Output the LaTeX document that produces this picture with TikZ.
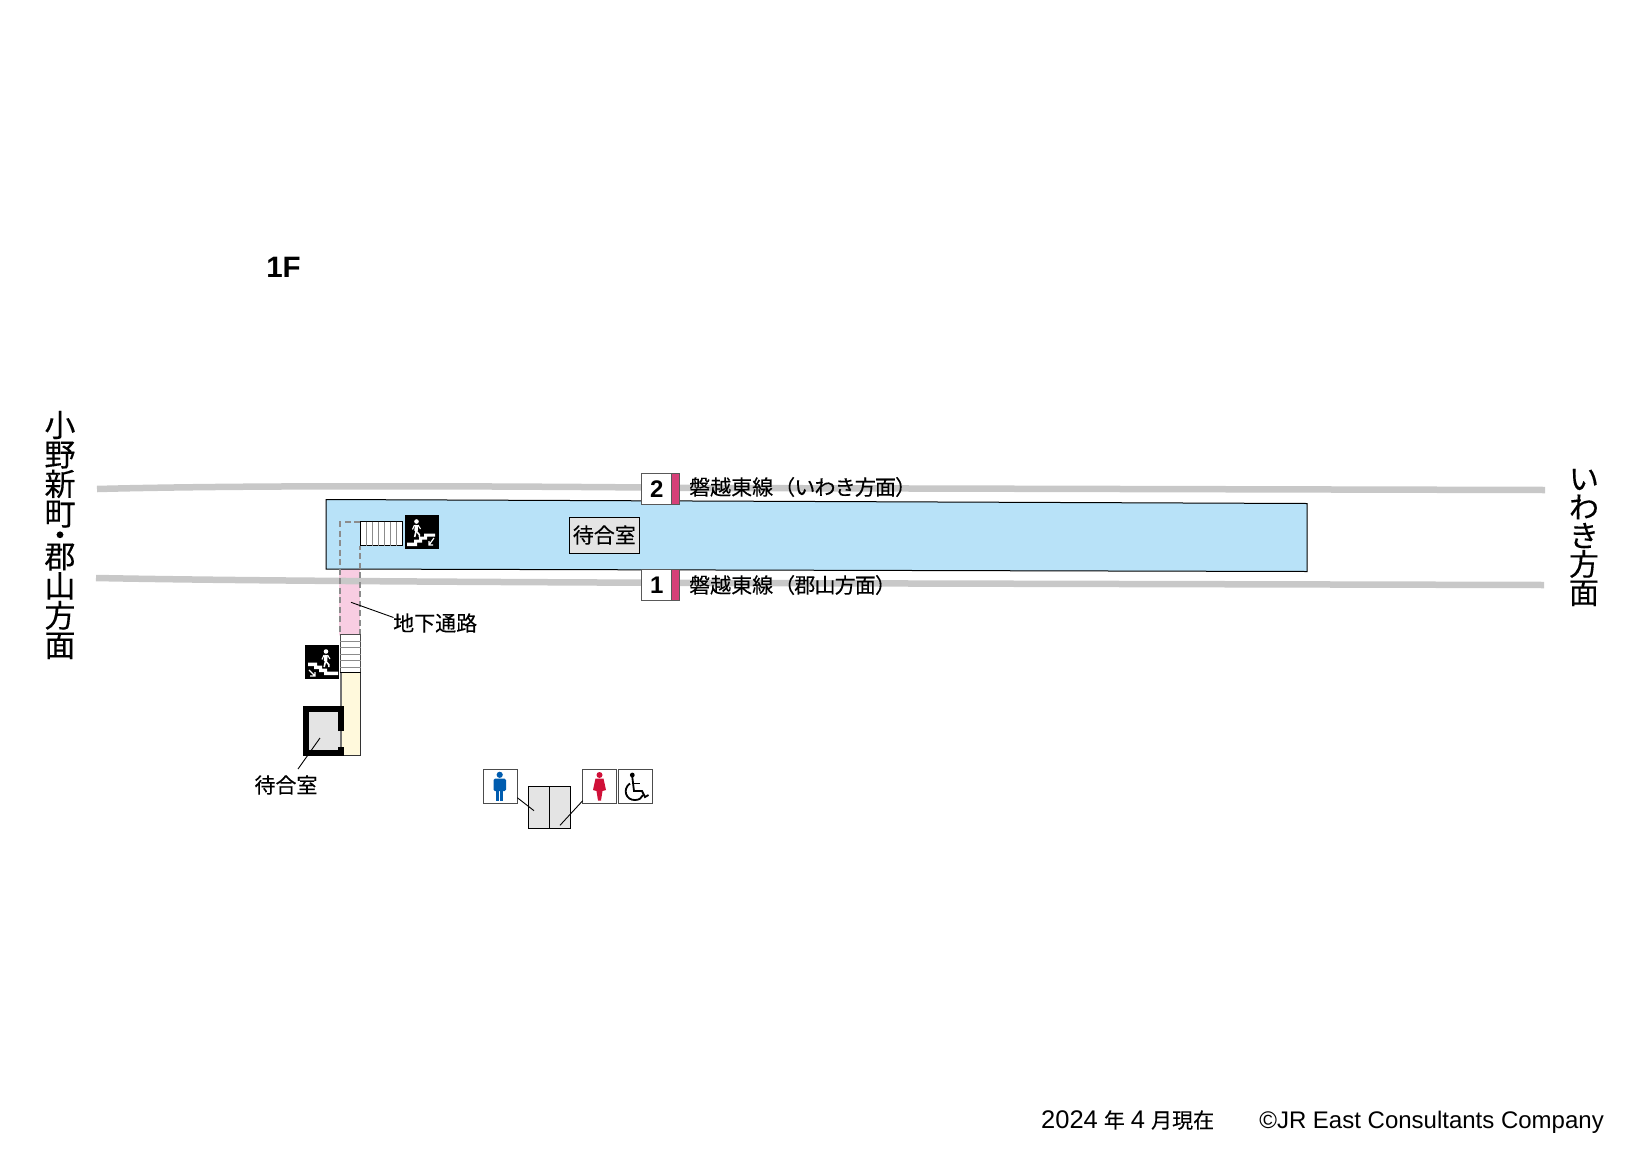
\documentclass[tikz,border=0pt]{standalone}
\usepackage{fontspec}
\setmainfont{Liberation Sans}
\newfontfamily\cjk[FakeBold=0.2]{Noto Sans CJK JP}
\definecolor{track}{RGB}{200, 200, 200}
\definecolor{platform}{RGB}{184, 226, 248}
\definecolor{subway}{RGB}{248, 205, 226}
\definecolor{concourse}{RGB}{255, 249, 220}
\definecolor{room}{RGB}{228, 228, 228}
\definecolor{platmark}{RGB}{214, 64, 120}
\definecolor{men}{RGB}{0, 92, 175}
\definecolor{women}{RGB}{208, 16, 56}
\tikzset{
  every node/.style={inner sep=0},
  nametag/.style={font=\cjk\fontsize{21}{21}\selectfont},
  bigname/.style={align=center},
  foot/.style={font=\fontsize{24}{24}\selectfont},
  leader/.style={black, line width=0.9},
  rails/.style={track, line width=6.5},
  numtag/.style={draw=black!65, line width=1, fill=white, minimum width=30, minimum height=31, font=\bfseries\fontsize{24}{24}\selectfont},
  icon/.style={draw=black!70, line width=1, fill=white, minimum size=34},
  black icon/.style={fill=black, minimum size=34},
  wc/.style={draw=black, line width=1, fill=room, minimum width=21, minimum height=42.5},
}
\newcommand{\numbox}[3]{
  \node[numtag] (#1) at (#2 + 15, #3) {\kern1.5pt #1};
  \draw[black!65, fill=platmark, line width=1] (#2 + 30, #3 - 15.5) rectangle (#2 + 38, #3 + 15.5);
}
\newcommand{\walker}[2]{
  \fill[white] (#1, #2 - 12.5) circle (2.3);
  \draw[white, line width=3.4] (#1, #2 - 9) -- (#1 - 0.5, #2 - 3);
  \draw[white, line width=1.6] (#1 - 0.5, #2 - 3) -- (#1 - 1.8, #2 + 3);
  \draw[white, line width=1.6] (#1 - 0.5, #2 - 3) -- (#1 + 2.8, #2 + 0.5) -- (#1 + 2.8, #2 + 3);
  \draw[white, line width=1.1] (#1 - 2, #2 - 9) -- (#1 - 4, #2 - 4.5);
  \draw[white, line width=1.1] (#1 + 1.5, #2 - 9) -- (#1 + 4, #2 - 5);
}
\begin{document}
\begin{tikzpicture}[x=1pt, y=-1pt]
  \useasboundingbox (0, 0) rectangle (1642, 1162);

  \fill[subway] (339, 569) rectangle (360, 635);

  \draw[rails] (97, 489) .. controls (250, 485) and (500, 486) .. (700, 488) -- (1545, 490);
  \draw[rails] (96, 578) .. controls (250, 581) and (500, 582) .. (700, 583) -- (1544, 585);

  \draw[black, fill=platform, line width=1] (326, 499.5) -- (1307, 503.5) -- (1307, 571.5) -- (326, 569) -- cycle;

  \fill[concourse] (341, 673) rectangle (360, 755);
  \draw[black!55, line width=1.4] (341, 673) -- (341, 755);
  \draw[black!80, line width=1] (341, 755) -- (360, 755) -- (360, 673);
  \draw[black!45, line width=1.2, dash pattern=on 6 off 3.5] (360, 635) -- (360, 546) (360, 522) -- (340, 522) -- (340, 635);

  \draw[black, fill=white, line width=1] (360, 521.5) rectangle (402.5, 545.5);
  \foreach \x in {366, 372, 378, 384, 390, 396}
    \draw[black!45, line width=0.8] (\x, 521.5) -- (\x, 545.5);
  \draw[black!70, fill=white, line width=1] (340, 634.5) rectangle (360.5, 672.5);
  \draw[black, line width=1.2] (340, 672.5) -- (360.5, 672.5);
  \foreach \y in {641, 647.5, 654, 660.5, 667}
    \draw[black!45, line width=0.8] (340, \y) -- (360.5, \y);

  \node[black icon] (down1) at (422, 532) {};
  \fill[white] (407, 546) -- (407, 542.5) -- (414, 542.5) -- (414, 539.5) -- (419, 539.5) -- (419, 536.5) -- (424, 536.5) -- (424, 533.5) -- (435, 533.5) -- (435, 536.5) -- (427, 536.5) -- (427, 539.5) -- (422, 539.5) -- (422, 542.5) -- (417, 542.5) -- (417, 546) -- cycle;
  \walker{416.5}{534}
  \draw[white, line width=1.2] (434, 538) -- (429, 545) (429, 541) -- (429, 545) -- (433, 545);

  \node[black icon] (down2) at (321.7, 661.7) {};
  \fill[white] (308, 662.5) -- (317, 662.5) -- (317, 665.5) -- (322, 665.5) -- (322, 668.5) -- (327, 668.5) -- (327, 671.5) -- (338, 671.5) -- (338, 675) -- (324, 675) -- (324, 672) -- (319, 672) -- (319, 669) -- (314, 669) -- (314, 666) -- (308, 666) -- cycle;
  \walker{326}{664}
  \draw[white, line width=1.2] (309, 670) -- (315, 676) (310, 676) -- (315, 676) -- (315, 672);

  \fill[room] (309, 711) rectangle (341, 751);
  \draw[black, line width=5.8] (341.2, 731) -- (341.2, 709) -- (306.2, 709) -- (306.2, 753.2) -- (341.2, 753.2) -- (341.2, 747);
  \draw[black!55, line width=1.2] (341, 731) -- (341, 747);

  \node[draw=black, line width=1, fill=room, minimum width=70.5, minimum height=36] (roomA) at (604.3, 535.3) {};
  \node[nametag] (roomAtext) at (604.3, 535) {待合室};

  \numbox{2}{641}{489}
  \numbox{1}{641}{585}
  \node[nametag, anchor=west] (line2) at (689, 487) {磐越東線\kern1pt{\addfontfeature{LetterSpace=-4}（いわき方面）}};
  \node[nametag, anchor=west] (line1) at (689, 585) {磐越東線\kern1pt{\addfontfeature{LetterSpace=-4}（郡山方面）}};

  \node[nametag, anchor=west] (under) at (393, 623) {地下通路};
  \coordinate (underend) at (351, 602.3);
  \coordinate (undertip) at (393.5, 617.5);
  \draw[leader] (underend) -- (undertip);

  \node[nametag] (roomB) at (286, 785) {待合室};
  \coordinate (roomBend) at (320, 738);
  \coordinate (roomBtip) at (298, 769);
  \draw[leader] (roomBend) -- (roomBtip);

  \node[wc] (wcL) at (538.8, 807.3) {};
  \node[wc] (wcR) at (559.8, 807.3) {};

  \node[icon] (manicon) at (500, 786) {};
  \fill[men] (499.7, 774.8) circle (3.1);
  \fill[men, rounded corners=1.5] (493.5, 778.5) rectangle (506, 791);
  \fill[men] (496.2, 788) rectangle (499.3, 800.5);
  \fill[men] (500.2, 788) rectangle (503.3, 800.5);

  \node[icon] (womanicon) at (599.5, 786) {};
  \fill[women] (599.5, 775) circle (3);
  \fill[women] (595.5, 778.5) -- (603.5, 778.5) -- (606, 790) -- (602.5, 791) -- (601, 800.5) -- (598, 800.5) -- (596.5, 791) -- (593, 790) -- cycle;

  \node[icon] (wheelicon) at (635.5, 786) {};
  \fill[black] (632.3, 775) circle (2.4);
  \draw[black, line width=1.8] (632.3, 777) -- (634, 791) -- (642, 791) -- (645, 797) -- (648.5, 795);
  \draw[black, line width=1.5] (633, 783.5) -- (639.5, 783.5);
  \draw[black, line width=1.8] (630, 783.5) .. controls (622, 789) and (626, 800.5) .. (635, 800) .. controls (639, 800) and (642, 798) .. (643, 795);

  \coordinate (mansnap) at (517.3, 797.7);
  \coordinate (mantip) at (534, 810.7);
  \coordinate (womansnap) at (582.7, 800.7);
  \coordinate (womantip) at (560, 825.3);
  \draw[leader] (mansnap) -- (mantip);
  \draw[leader] (womansnap) -- (womantip);

  \node[font=\bfseries\fontsize{29.5}{29.5}\selectfont] (floor) at (283.5, 267) {1F};

  \node[bigname, font=\cjk\fontsize{31}{29.5}\selectfont] (west) at (60, 535) {小\\野\\新\\町\\[-8pt]・\\[-8pt]郡\\山\\方\\面};
  \node[bigname, font=\cjk\fontsize{30}{28.5}\selectfont] (east) at (1584, 537.5) {い\\わ\\き\\方\\面};

  \node[foot, anchor=base west] (date) at (1041, 1128) {\fontsize{25.5}{25.5}\selectfont 2024\kern6pt{\cjk\fontsize{21}{24}\selectfont 年}\kern6pt 4\kern6pt{\cjk\fontsize{21}{24}\selectfont 月現在}};
  \node[foot, anchor=base east] (credit) at (1604, 1128) {©JR East Consultants Company};
\end{tikzpicture}
\end{document}
